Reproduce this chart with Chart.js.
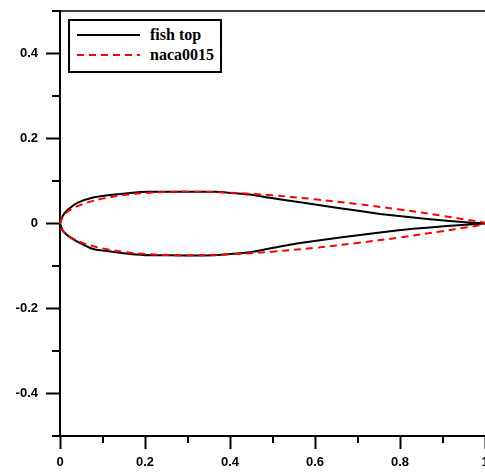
<!DOCTYPE html>
<html>
<head>
<meta charset="utf-8">
<script src="https://cdn.jsdelivr.net/npm/chart.js@4"></script>
<style>
  body { margin: 0; background: #fff; }
  #wrap { position: relative; width: 485px; height: 473px; }
  #legend {
    position: absolute; left: 68px; top: 19px; width: 150px; height: 50px;
    border: 2px solid #000; background: #fff;
    font: bold 16px "Liberation Serif", "Times New Roman", serif;
  }
  .row { position: absolute; left: 0; height: 20px; display: flex; align-items: center; }
  .row svg { margin-left: 7px; }
  .row span { margin-left: 10px; }
</style>
</head>
<body>
<div id="wrap">
  <canvas id="chart" width="485" height="473"></canvas>
  <div id="legend"></div>
</div>
<script>
// naca0015 section
const nacaX = [0, 0.005, 0.0125, 0.025, 0.05, 0.075, 0.1, 0.15, 0.2, 0.25, 0.3, 0.4, 0.5, 0.6, 0.7, 0.8, 0.9, 0.95, 1.0];
const nacaUpper = [0, 0.0150, 0.0237, 0.0327, 0.0444, 0.0525, 0.0585, 0.0668, 0.0717, 0.0743, 0.0750, 0.0725, 0.0662, 0.0570, 0.0458, 0.0328, 0.0181, 0.0101, 0.0016];
const nacaLower = [0, -0.0150, -0.0237, -0.0327, -0.0444, -0.0525, -0.0585, -0.0668, -0.0717, -0.0743, -0.0750, -0.0725, -0.0662, -0.0570, -0.0458, -0.0328, -0.0181, -0.0101, -0.0016];

// fish profile, black solid curve
const fishX = [0, 0.007, 0.019, 0.042, 0.078, 0.118, 0.165, 0.21, 0.3, 0.365, 0.4, 0.447, 0.49, 0.565, 0.659, 0.753, 0.831, 0.91, 1.0];
const fishUpper = [0, 0.019, 0.033, 0.049, 0.061, 0.067, 0.072, 0.0745, 0.0748, 0.0745, 0.072, 0.068, 0.061, 0.050, 0.036, 0.0225, 0.014, 0.0065, 0];
const fishLower = [0, -0.017, -0.029, -0.043, -0.060, -0.066, -0.0715, -0.0745, -0.075, -0.0745, -0.072, -0.0675, -0.0595, -0.046, -0.033, -0.021, -0.0125, -0.006, 0];

const xTicks = [0, 0.2, 0.4, 0.6, 0.8, 1.0];
const xTickLabels = ['0', '0.2', '0.4', '0.6', '0.8', '1'];
const xMinor = [0.1, 0.3, 0.5, 0.7, 0.9];
const yTicks = [-0.4, -0.2, 0, 0.2, 0.4];
const yTickLabels = ['-0.4', '-0.2', '0', '0.2', '0.4'];
const yMinor = [-0.5, -0.3, -0.1, 0.1, 0.3, 0.5];

// closed outline: top surface out to the tail, bottom surface back
function outline(xs, top, bottom) {
  const up = xs.map((x, i) => ({ x: x, y: top[i] }));
  const down = xs.map((x, i) => ({ x: x, y: bottom[i] })).reverse();
  return up.concat(down);
}

const tickFont = { family: '"Liberation Sans", Arial, sans-serif', size: 13, weight: 'bold' };

// minor ticks + thin frame line along the top
const frameExtras = {
  id: 'frameExtras',
  afterDraw(chart) {
    const ctx = chart.ctx;
    const xs = chart.scales.x, ys = chart.scales.y;
    const area = chart.chartArea;
    ctx.save();
    ctx.strokeStyle = '#000';
    ctx.lineWidth = 2;
    ctx.beginPath();
    xMinor.forEach(v => {
      const px = Math.round(xs.getPixelForValue(v));
      ctx.moveTo(px, area.bottom);
      ctx.lineTo(px, area.bottom + 7);
    });
    yMinor.forEach(v => {
      const py = Math.round(ys.getPixelForValue(v));
      ctx.moveTo(area.left - 8, py);
      ctx.lineTo(area.left, py);
    });
    ctx.stroke();
    ctx.lineWidth = 1.5;
    ctx.beginPath();
    ctx.moveTo(area.left, Math.round(area.top));
    ctx.lineTo(chart.width, Math.round(area.top));
    ctx.stroke();
    ctx.restore();
  }
};

const datasets = [
  {
    label: 'fish top',
    data: outline(fishX, fishUpper, fishLower),
    borderColor: '#000000',
    borderWidth: 2,
    borderDash: [],
    tension: 0.15,
    order: 1
  },
  {
    label: 'naca0015',
    data: outline(nacaX, nacaUpper, nacaLower),
    borderColor: '#ff0000',
    borderWidth: 2,
    borderDash: [7, 5],
    tension: 0.4,
    order: 0
  }
];

new Chart(document.getElementById('chart'), {
  type: 'scatter',
  data: {
    datasets: datasets.map(d => Object.assign({}, d, {
      showLine: true,
      pointRadius: 0,
      fill: false,
      clip: false
    }))
  },
  options: {
    responsive: false,
    animation: false,
    layout: { padding: { top: 11, right: 0, left: 0, bottom: 0 } },
    plugins: { legend: { display: false }, tooltip: { enabled: false } },
    scales: {
      x: {
        type: 'linear',
        min: 0,
        max: 1,
        border: { color: '#000', width: 2 },
        grid: { drawOnChartArea: false, tickLength: 13, tickColor: '#000', tickWidth: 2 },
        afterBuildTicks: s => { s.ticks = xTicks.map(v => ({ value: v })); },
        afterFit: s => { s.height = 37; s.paddingRight = 0; s.paddingLeft = 0; },
        ticks: {
          color: '#000',
          font: tickFont,
          padding: 6,
          maxRotation: 0,
          autoSkip: false,
          callback: (v, i) => xTickLabels[i]
        }
      },
      y: {
        type: 'linear',
        min: -0.5,
        max: 0.5,
        border: { color: '#000', width: 2 },
        grid: { drawOnChartArea: false, tickLength: 14, tickColor: '#000', tickWidth: 2 },
        afterBuildTicks: s => { s.ticks = yTicks.map(v => ({ value: v })); },
        afterFit: s => { s.width = 60; s.paddingTop = 0; s.paddingBottom = 0; },
        ticks: {
          color: '#000',
          font: tickFont,
          padding: 8,
          autoSkip: false,
          callback: (v, i) => yTickLabels[i]
        }
      }
    }
  },
  plugins: [frameExtras]
});

// legend box drawn from the dataset styles
const legend = document.getElementById('legend');
datasets.forEach((d, i) => {
  const row = document.createElement('div');
  row.className = 'row';
  row.style.top = (4 + i * 20) + 'px';
  const dash = d.borderDash.length ? d.borderDash.join(' ') : 'none';
  row.innerHTML =
    '<svg width="63" height="4"><line x1="0" y1="2" x2="63" y2="2" stroke="' + d.borderColor +
    '" stroke-width="2" stroke-dasharray="' + dash + '"/></svg><span>' + d.label + '</span>';
  legend.appendChild(row);
});
</script>
</body>
</html>
